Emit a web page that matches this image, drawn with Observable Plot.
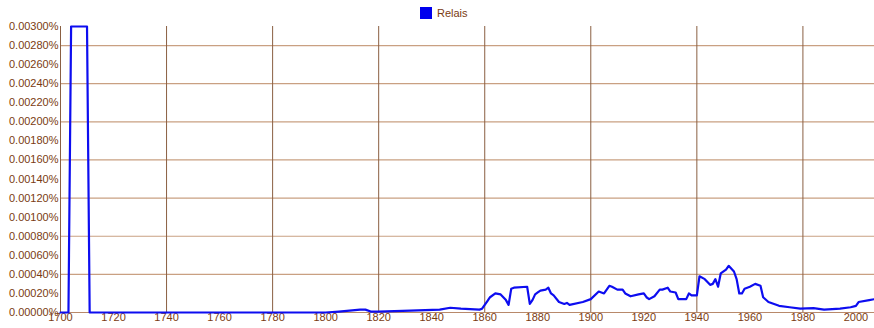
<!DOCTYPE html>
<html><head><meta charset="utf-8">
<script src="https://cdn.jsdelivr.net/npm/d3@7"></script>
<script src="https://cdn.jsdelivr.net/npm/@observablehq/plot@0.6"></script>
<style>
body{margin:0;background:#fff;font-family:"Liberation Sans",Arial,Helvetica,sans-serif}
#legend{height:20px;position:relative;width:874px}
#legend .sw{position:absolute;left:420px;top:7px;width:12px;height:12px;background:#0000ee}
#legend .lb{position:absolute;left:437px;top:6px;font-size:11px;color:#7a3b12;line-height:14px}
</style></head>
<body>
<div id="legend"><span class="sw"></span><span class="lb">Relais</span></div>
<div id="chart"></div>
<script>
const seriesName = "Relais";
const years = [1700,1703,1704,1710,1711,1800,1805,1809,1813,1815,1817,1820,1832,1843,1847,1851,1858,1859,1860,1861,1862,1864,1866,1868,1869,1870,1871,1876,1877,1878,1879,1880,1881,1883,1884,1885,1886,1888,1890,1891,1892,1897,1900,1903,1905,1907,1908,1910,1912,1913,1915,1918,1920,1921,1922,1924,1926,1927,1929,1930,1932,1933,1935,1936,1937,1938,1940,1941,1943,1945,1946,1947,1948,1949,1951,1952,1954,1955,1956,1957,1958,1960,1962,1964,1965,1967,1971,1975,1979,1984,1988,1994,1998,2000,2001,2005,2007];
const values = [0,0,0.003,0.003,0,0,0.00001,0.00002,0.00003,0.00003,0.00001,0.00001,0.00002,0.00003,0.00005,0.00004,0.00003,0.00004,0.00008,0.00012,0.00016,0.0002,0.00019,0.00013,0.00008,0.00025,0.00026,0.00027,0.00009,0.00013,0.00019,0.00021,0.00023,0.00024,0.00026,0.0002,0.00018,0.00011,0.00009,0.0001,0.00008,0.00011,0.00014,0.00022,0.0002,0.00028,0.00027,0.00024,0.00024,0.0002,0.00017,0.00019,0.0002,0.00016,0.00014,0.00017,0.00024,0.00024,0.00026,0.00022,0.00021,0.00014,0.00014,0.00014,0.0002,0.00018,0.00018,0.00038,0.00035,0.00029,0.0003,0.00035,0.00027,0.00041,0.00045,0.00049,0.00043,0.00035,0.0002,0.0002,0.00025,0.00027,0.0003,0.00028,0.00016,0.00011,0.00007,0.000055,0.00004,0.000045,0.00003,0.00004,0.000055,0.00007,0.00011,0.00013,0.00014];
const xTicks = [1700,1720,1740,1760,1780,1800,1820,1840,1860,1880,1900,1920,1940,1960,1980,2000];
const xGrid = [1740,1780,1820,1860,1900,1940,1980];
const yTicks = [0,0.0002,0.0004,0.0006,0.0008,0.001,0.0012,0.0014,0.0016,0.0018,0.002,0.0022,0.0024,0.0026,0.0028,0.003];
const yGrid = [0.0004,0.0008,0.0012,0.0016,0.002,0.0024,0.0028];

const data = years.map((y,i)=>({year:y, value:values[i]}));

const plot = Plot.plot({
  width: 874, height: 308,
  marginLeft: 60, marginRight: 0, marginTop: 6, marginBottom: 16,
  style: {fontFamily:'"Liberation Sans",Arial,Helvetica,sans-serif', fontSize:"11px", color:"#7a3b12", background:"white", overflow:"visible"},
  x: {domain:[1700,2007], ticks: xTicks, tickFormat: d=>String(d), tickSize:0, tickPadding:1, label:null},
  y: {domain:[0,0.003], ticks: yTicks, tickFormat: d=>d.toFixed(5)+"%", tickSize:0, tickPadding:2, label:null},
  marks: [
    Plot.ruleY(yGrid, {stroke:"#c9a082", strokeWidth:1.2}),
    Plot.ruleX(xGrid, {stroke:"#8a5f42", strokeWidth:1}),
    Plot.ruleX([1700], {stroke:"#8a5f42", strokeWidth:1}),
    Plot.ruleY([0], {stroke:"#b8896a", strokeWidth:1.2}),
    Plot.line(data, {x:"year", y:"value", stroke:"#0d0df0", strokeWidth:2.2, curve:"linear"})
  ]
});
document.getElementById("chart").appendChild(plot);
</script>
</body></html>
